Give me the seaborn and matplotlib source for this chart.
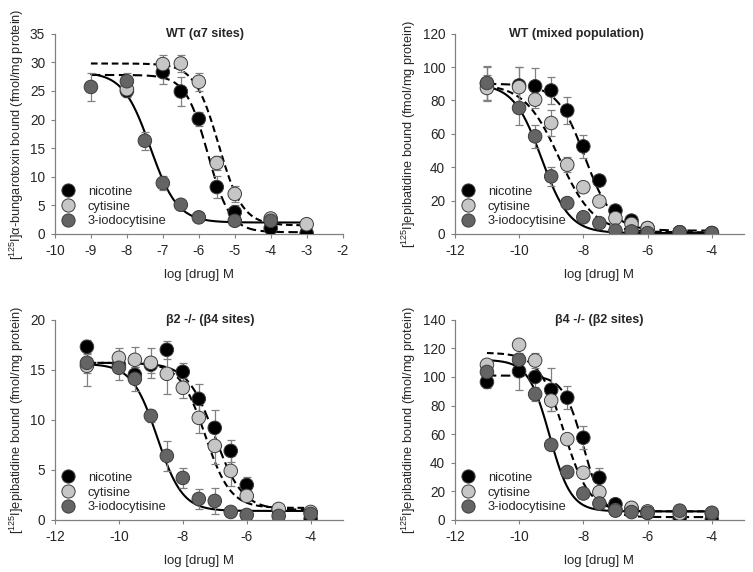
import numpy as np
import pandas as pd
import matplotlib
matplotlib.use('Agg')
import matplotlib.pyplot as plt
import seaborn as sns

# ---- data ----
drugs = ['nicotine', 'cytisine', '3-iodocytisine']
colors = {'nicotine': '#000000', 'cytisine': '#c6c6c6', '3-iodocytisine': '#646464'}

dose_std = [-11, -10, -9.5, -9, -8.5, -8, -7.5, -7, -6.5, -6, -5, -4]

# panel A: WT (alpha7 sites)
a7_nic_x = [-8, -7, -6.5, -6, -5.5, -5, -4, -3]
a7_nic_y = [25.0, 28.3, 24.9, 20.1, 8.2, 3.8, 1.0, 0.1]
a7_nic_e = [1.0, 2.0, 2.6, 1.3, 2.0, 1.2, 0.5, 0.3]
a7_cyt_x = [-8, -7, -6.5, -6, -5.5, -5, -4, -3]
a7_cyt_y = [25.3, 29.7, 29.8, 26.6, 12.4, 7.0, 2.7, 1.7]
a7_cyt_e = [1.2, 1.5, 1.4, 1.6, 1.2, 1.4, 0.4, 0.3]
a7_iod_x = [-9, -8, -7.5, -7, -6.5, -6, -5, -4]
a7_iod_y = [25.7, 26.7, 16.3, 8.9, 5.1, 2.9, 2.3, 2.3]
a7_iod_e = [2.5, 1.5, 1.6, 1.3, 0.4, 0.4, 0.4, 0.4]

# panel B: WT (mixed population)
mix_nic_y = [90, 89, 88.5, 86, 74, 52.5, 32, 14, 8, 3.5, 1, 0.5]
mix_nic_e = [10, 11, 11, 8, 8, 7, 3, 2, 2, 1, 0.5, 0.5]
mix_cyt_y = [87.5, 88, 80.5, 66.5, 41.5, 28, 19.5, 9.5, 6, 3.5, 1, 0.5]
mix_cyt_e = [8, 12, 5, 8, 4.5, 2, 2, 1.5, 1, 1, 0.5, 0.5]
mix_iod_y = [90.5, 75.5, 58.5, 34.5, 18.5, 10, 6.5, 2, 1.5, 0.5, 1, 0.5]
mix_iod_e = [10, 10, 7, 5.5, 2, 1.5, 1, 0.5, 0.5, 0.5, 0.5, 0.5]

# panel C: beta2 -/- (beta4 sites)
b4_nic_y = [17.3, 15.5, 14.5, 15.5, 17.0, 14.8, 12.1, 9.2, 6.9, 3.5, 1.0, 0.1]
b4_nic_e = [0.7, 0.8, 0.8, 0.8, 0.9, 0.9, 1.5, 1.8, 1.1, 0.8, 0.3, 0.3]
b4_cyt_y = [15.4, 16.2, 16.0, 15.7, 14.6, 13.2, 10.2, 7.4, 4.9, 2.4, 1.1, 0.8]
b4_cyt_e = [2.0, 1.0, 1.3, 1.5, 2.0, 1.0, 1.5, 1.8, 1.5, 0.5, 0.3, 0.3]
b4_iod_y = [15.7, 15.2, 14.1, 10.4, 6.4, 4.2, 2.1, 1.9, 0.8, 0.5, 0.4, 0.6]
b4_iod_e = [1.0, 1.2, 1.2, 0.6, 1.5, 1.0, 1.0, 1.3, 0.3, 0.3, 0.3, 0.3]

# panel D: beta4 -/- (beta2 sites)
b2_nic_y = [96.5, 104, 100, 91, 85.5, 57.5, 29.5, 11, 8, 5, 1.5, 0.3]
b2_nic_e = [4, 13, 10, 15, 8, 8, 7, 2, 2, 1, 1, 1]
b2_cyt_y = [108.5, 122.5, 111.5, 83.5, 56.5, 33, 19.5, 7, 8.5, 6, 4.5, 4.5]
b2_cyt_e = [3, 3, 5, 7, 3, 3, 3, 1, 1, 1, 1, 1]
b2_iod_y = [103.5, 112, 88, 52.5, 33.5, 18.5, 11.5, 6.5, 5.5, 5, 6.5, 5]
b2_iod_e = [3, 4, 5, 3, 2, 2, 2, 1, 1, 1, 1, 1]

# fitted curve parameters (top, bottom, logIC50, hill)
a7_fit = {'nicotine': (27.8, 0.3, -5.75, 1.4), 'cytisine': (29.8, 1.5, -5.45, 1.3),
          '3-iodocytisine': (28.3, 2.0, -7.35, 1.15)}
mix_fit = {'nicotine': (90, 2.0, -7.95, 1.0), 'cytisine': (90, 1.0, -8.75, 0.8),
           '3-iodocytisine': (90, 0.5, -9.3, 1.0)}
b4_fit = {'nicotine': (15.7, 1.0, -7.0, 1.0), 'cytisine': (15.7, 1.2, -7.3, 1.1),
          '3-iodocytisine': (15.6, 0.9, -8.8, 1.1)}
b2_fit = {'nicotine': (101, 2.0, -8.0, 1.4), 'cytisine': (117, 6.0, -8.6, 1.1),
          '3-iodocytisine': (112, 6.0, -9.05, 1.3)}

styles = {'nicotine': (0, (4.5, 2.2)), 'cytisine': (0, (3.2, 1.8)), '3-iodocytisine': '-'}

panels = [
    dict(title='WT (α7 sites)', tx=0.52,
         ylabel='[$^{125}$I]α-bungarotoxin bound (fmol/mg protein)',
         xlim=(-10, -2), xt=np.arange(-10, -1, 1), ylim=(0, 35), yt=np.arange(0, 36, 5), crange=(-9, -3),
         series={'nicotine': (a7_nic_x, a7_nic_y, a7_nic_e), 'cytisine': (a7_cyt_x, a7_cyt_y, a7_cyt_e),
                 '3-iodocytisine': (a7_iod_x, a7_iod_y, a7_iod_e)}, fit=a7_fit),
    dict(title='WT (mixed population)', tx=0.42,
         ylabel='[$^{125}$I]epibatidine bound (fmol/mg protein)',
         xlim=(-12, -3), xt=np.arange(-12, -3, 2), ylim=(0, 120), yt=np.arange(0, 121, 20), crange=(-11, -4),
         series={'nicotine': (dose_std, mix_nic_y, mix_nic_e), 'cytisine': (dose_std, mix_cyt_y, mix_cyt_e),
                 '3-iodocytisine': (dose_std, mix_iod_y, mix_iod_e)}, fit=mix_fit),
    dict(title='β2 -/- (β4 sites)', tx=0.54,
         ylabel='[$^{125}$I]epibatidine bound (fmol/mg protein)',
         xlim=(-12, -3), xt=np.arange(-12, -3, 2), ylim=(0, 20), yt=np.arange(0, 21, 5), crange=(-11, -4),
         series={'nicotine': (dose_std, b4_nic_y, b4_nic_e), 'cytisine': (dose_std, b4_cyt_y, b4_cyt_e),
                 '3-iodocytisine': (dose_std, b4_iod_y, b4_iod_e)}, fit=b4_fit),
    dict(title='β4 -/- (β2 sites)', tx=0.50,
         ylabel='[$^{125}$I]epibatidine bound (fmol/mg protein)',
         xlim=(-12, -3), xt=np.arange(-12, -3, 2), ylim=(0, 140), yt=np.arange(0, 141, 20), crange=(-11, -4),
         series={'nicotine': (dose_std, b2_nic_y, b2_nic_e), 'cytisine': (dose_std, b2_cyt_y, b2_cyt_e),
                 '3-iodocytisine': (dose_std, b2_iod_y, b2_iod_e)}, fit=b2_fit),
]

sns.set_style('ticks')
plt.rcParams['font.family'] = ['Liberation Sans', 'DejaVu Sans']
plt.rcParams['mathtext.fontset'] = 'custom'
plt.rcParams['mathtext.rm'] = 'Liberation Sans'
plt.rcParams['font.size'] = 9.5

fig = plt.figure(figsize=(7.53, 5.72), dpi=100)
# axes boxes in figure fraction (left, bottom, width, height)
boxes = [(0.073, 0.591, 0.382, 0.35), (0.604, 0.591, 0.384, 0.35),
         (0.073, 0.091, 0.382, 0.35), (0.604, 0.091, 0.384, 0.35)]


def logistic(x, top, bottom, logic50, hill):
    return bottom + (top - bottom) / (1 + 10 ** ((x - logic50) * hill))


for p, box in zip(panels, boxes):
    ax = fig.add_axes(box)
    # fitted curves
    for d in drugs:
        xs = np.linspace(p['crange'][0], p['crange'][1], 300)
        cdf = pd.DataFrame({'x': xs, 'y': logistic(xs, *p['fit'][d])})
        sns.lineplot(data=cdf, x='x', y='y', ax=ax, color='black', lw=1.5,
                     linestyle=styles[d], zorder=2)
    # error bars
    for d in drugs:
        x, y, e = p['series'][d]
        ax.errorbar(x, y, yerr=e, fmt='none', ecolor='#808080', elinewidth=0.9,
                    capsize=2.8, capthick=0.9, zorder=3)
    # points
    rows = []
    for d in drugs:
        x, y, e = p['series'][d]
        rows += [{'dose': xi, 'bound': yi, 'drug': d} for xi, yi in zip(x, y)]
    pdf = pd.DataFrame(rows)
    sns.scatterplot(data=pdf, x='dose', y='bound', hue='drug', hue_order=drugs, palette=colors,
                    s=95, edgecolor='#3c3c3c', linewidth=0.7, ax=ax, zorder=4, legend=False)

    ax.set_xlim(*p['xlim'])
    ax.set_ylim(*p['ylim'])
    ax.set_xticks(p['xt'])
    ax.set_yticks(p['yt'])
    ax.set_xticklabels([str(int(v)) for v in p['xt']])
    ax.set_xlabel('log [drug] M', fontsize=9.5, labelpad=8)
    ax.set_ylabel(p['ylabel'], fontsize=9.2, labelpad=3)
    ax.tick_params(labelsize=9.8, length=3, width=0.8, color='#808080', pad=4)
    sns.despine(ax=ax)
    for s in ['left', 'bottom']:
        ax.spines[s].set_color('#808080')
        ax.spines[s].set_linewidth(0.9)
    ax.text(p['tx'], 1.0, p['title'], transform=ax.transAxes, ha='center', va='center',
            fontsize=9, fontweight='bold')

    # legend
    handles = [plt.Line2D([], [], ls='', marker='o', ms=9.5, mfc=colors[d], mec='#3c3c3c', mew=0.7)
               for d in drugs]
    ax.legend(handles, drugs, loc='lower left', bbox_to_anchor=(0.0, 0.0), frameon=False,
              fontsize=9.3, handlelength=1.0, handletextpad=1.05, labelspacing=0.22,
              borderaxespad=0.1)

fig.savefig('out.png', dpi=100)
